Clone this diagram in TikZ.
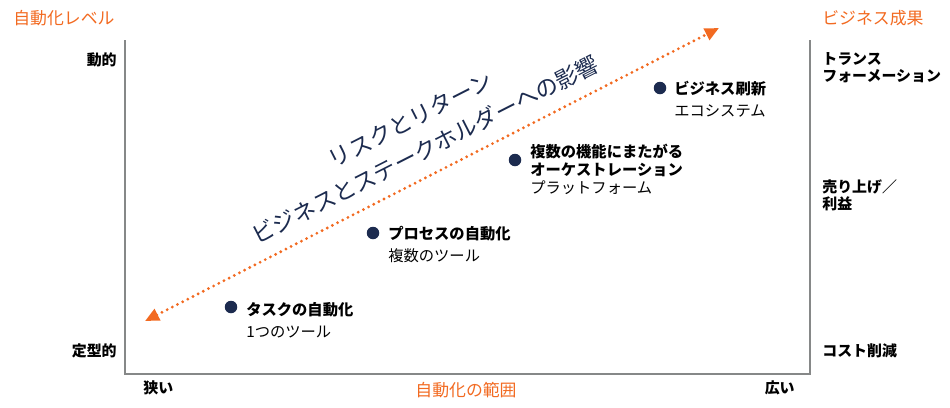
\documentclass[tikz,border=0pt]{standalone}
\usepackage{fontspec}
\newfontfamily\jp{Noto Sans CJK JP}
\usetikzlibrary{arrows.meta}

\begin{document}
\begin{tikzpicture}[x=0.02cm, y=-0.02cm]

% =======================================================
% Color definitions
% =======================================================
\definecolor{cOrange}{HTML}{F26A21}   % headings and arrow
\definecolor{cNavy}{HTML}{1C2B4F}     % stage dots, slanted text
\definecolor{cGray}{HTML}{868888}     % frame lines

% =======================================================
% Layout parameters (pixel units of the picture)
% =======================================================
\def\boxl{125}   % left frame line
\def\boxr{810}   % right frame line
\def\boxt{40}    % top of the side lines
\def\boxb{374}   % bottom frame line

% =======================================================
% Styles
% =======================================================
\tikzset{
  frame/.style   = {cGray, line width=1.1pt},
  heading/.style = {text=cOrange, inner sep=0pt, font=\jp\fontsize{9.6}{11}\selectfont},
  axislab/.style = {inner sep=0pt, align=left, font=\jp\bfseries\fontsize{8.5}{9.7}\selectfont},
  stagedot/.style= {circle, fill=cNavy, inner sep=0pt, minimum size=0.25cm},
  stagettl/.style= {anchor=west, inner sep=0pt, align=left, font=\jp\bfseries\fontsize{8.7}{10.2}\selectfont},
  stagesub/.style= {anchor=west, inner sep=0pt, font=\jp\fontsize{8.7}{10}\selectfont},
  riskarr/.style = {cOrange, line width=1.8pt, line cap=round,
                    dash pattern=on 0pt off 3.3pt,
                    {Triangle[length=8pt, width=7pt, line cap=butt]}-{Triangle[length=8pt, width=7pt, line cap=butt]}},
}

\useasboundingbox (0,0) rectangle (950,407);

% =======================================================
% Frame
% =======================================================
\draw[frame] (\boxl,\boxt) -- (\boxl,\boxb) -- (\boxr,\boxb) -- (\boxr,\boxt);

% Headings
\node[heading, anchor=west] (lvl)   at (13,18)   {自動化レベル};
\node[heading, anchor=west] (gain)  at (822,18)  {ビジネス成果};
\node[heading]              (scope) at (466,390) {自動化の範囲};

% Left scale
\node[axislab, anchor=east] (dyn)  at (117,60)  {動的};
\node[axislab, anchor=east] (rout) at (117,351) {定型的};

% Bottom scale
\node[axislab, anchor=west] (narrow) at (143,388) {狭い};
\node[axislab, anchor=east] (wide)   at (795,388) {広い};

% Right scale
\node[axislab, anchor=west] (trans) at (822,68)  {トランス\\フォーメーション};
\node[axislab, anchor=west] (sales) at (822,195) {売り上げ／\\利益};
\node[axislab, anchor=west] (cost)  at (822,351) {コスト削減};

% =======================================================
% Risk / return arrow
% =======================================================
\coordinate (lowend) at (145,321);
\coordinate (topend) at (719,28);
\draw[riskarr] (lowend) -- (topend);

\node[cNavy, rotate=27, align=center, inner sep=0pt,
      font=\jp\fontsize{12.9}{19}\selectfont]
    (impact) at (418,135)
    {リスクとリターン\\ビジネスとステークホルダーへの影響};

% =======================================================
% Stages
% =======================================================
\node[stagedot] (task) at (231,307) {};
\node[stagettl] (taskT) at (246,310) {タスクの自動化};
\node[stagesub] (taskS) at (246,332) {1つのツール};

\node[stagedot] (proc) at (373,233) {};
\node[stagettl] (procT) at (388,234) {プロセスの自動化};
\node[stagesub] (procS) at (388,256) {複数のツール};

\node[stagedot] (orch) at (515,160) {};
\node[stagettl] (orchT) at (530,160) {複数の機能にまたがる\\オーケストレーション};
\node[stagesub] (orchS) at (530,188) {プラットフォーム};

\node[stagedot] (biz) at (660,88) {};
\node[stagettl] (bizT) at (674,89)  {ビジネス刷新};
\node[stagesub] (bizS) at (674,111) {エコシステム};

\end{tikzpicture}
\end{document}
